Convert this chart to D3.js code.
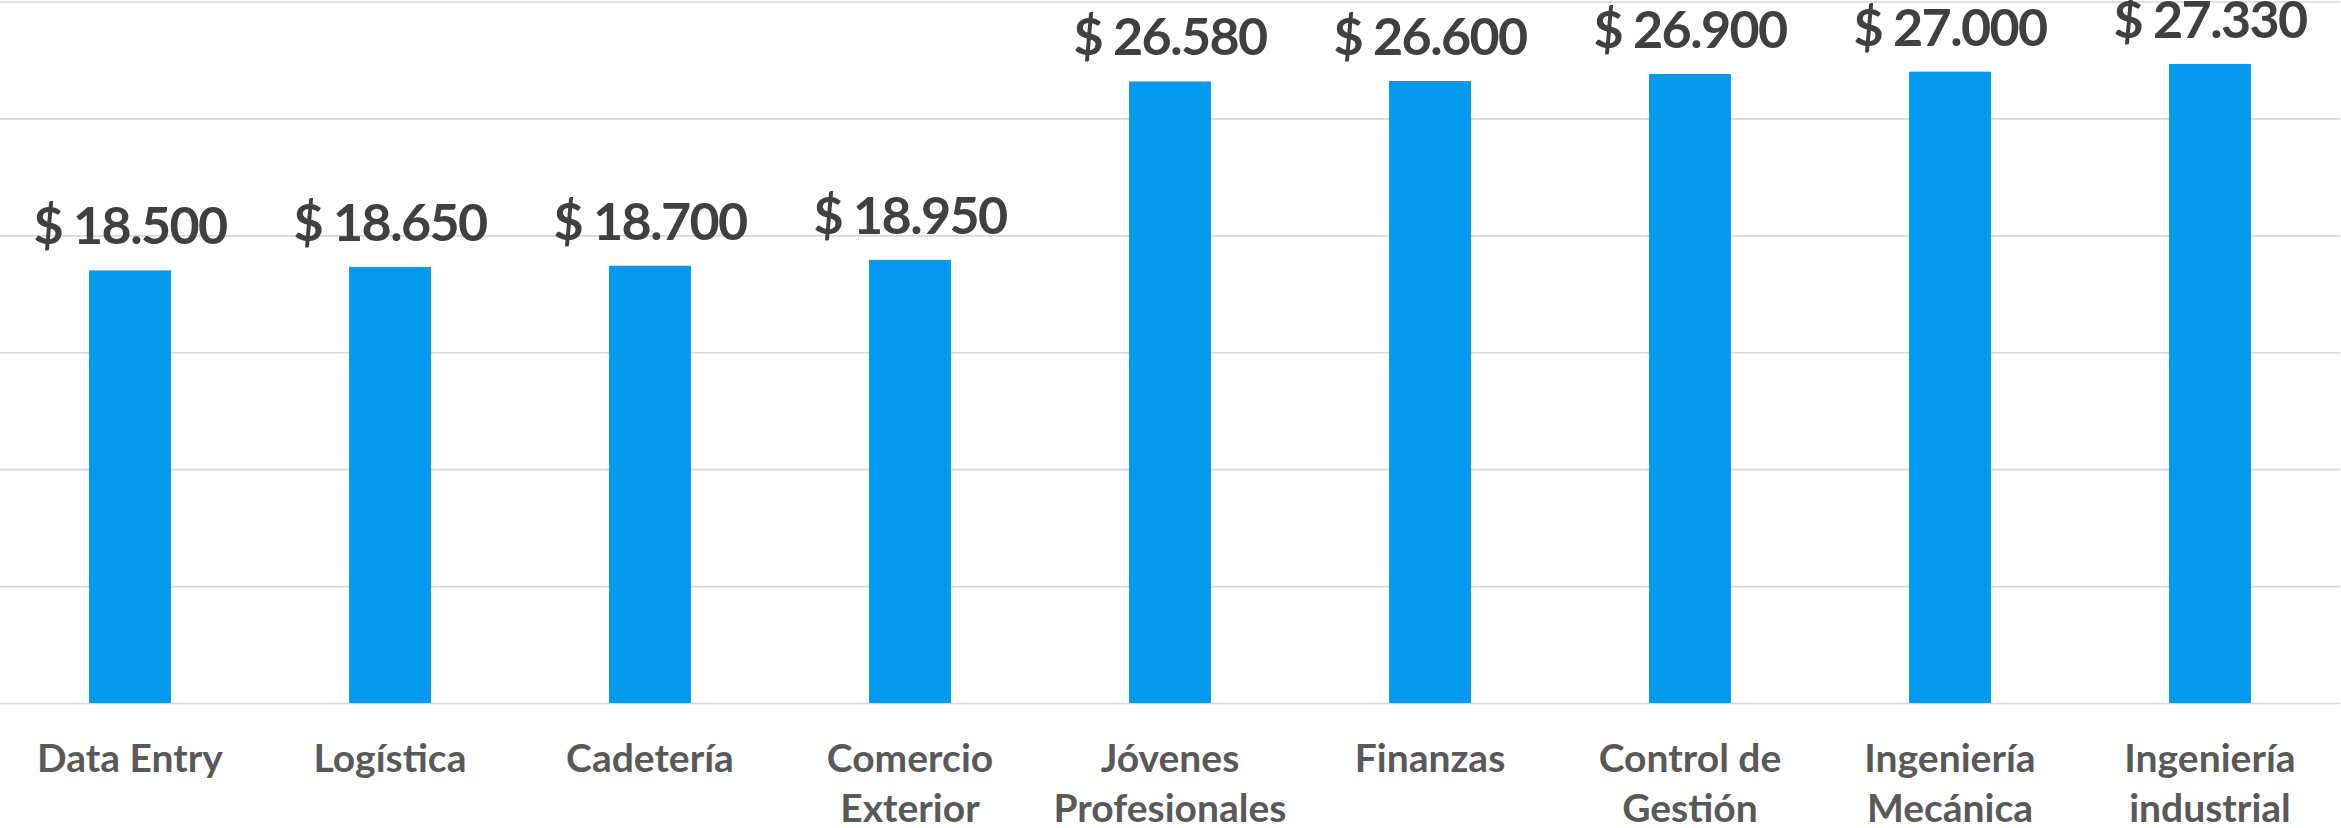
<!DOCTYPE html>
<html>
<head>
<meta charset="utf-8">
<script src="https://cdn.jsdelivr.net/npm/d3@7"></script>
<style>
  html, body { margin: 0; padding: 0; background: #fff; }
  svg { display: block; }
  .grid line { stroke: #d9d9d9; stroke-width: 1.6; }
  .grid .domain { display: none; }
  .value-label { font-family: Lato, "Open Sans", sans-serif; font-weight: 700; fill: #404040; letter-spacing: -1.6px; }
  .cat-label { font-family: Lato, "Open Sans", sans-serif; font-weight: 700; fill: #595959; }
</style>
</head>
<body>
<svg id="chart"></svg>
<script>
const width = 2341
const height = 828

// data
const categories = [
  ['Data Entry'],
  ['Logística'],
  ['Cadetería'],
  ['Comercio', 'Exterior'],
  ['Jóvenes', 'Profesionales'],
  ['Finanzas'],
  ['Control de', 'Gestión'],
  ['Ingeniería', 'Mecánica'],
  ['Ingeniería', 'industrial']
]
const salaries = [18500, 18650, 18700, 18950, 26580, 26600, 26900, 27000, 27330]
const yTicks = [0, 5000, 10000, 15000, 20000, 25000, 30000]

//

const margin = {top: 1.5, right: 1, bottom: 125, left: 0}
const plotW = width - margin.left - margin.right
const plotH = height - margin.top - margin.bottom

const svg = d3.select('#chart')
  .attr('width', width)
  .attr('height', height)

const g = svg.append('g')
  .attr('transform', `translate(${margin.left},${margin.top})`)

const keys = categories.map((c) => c.join(' '))

const x = d3.scaleBand()
  .domain(keys)
  .range([0, plotW])
  .paddingInner(0.685)
  .paddingOuter(0.685 / 2)

const y = d3.scaleLinear()
  .domain([0, 30000])
  .range([plotH, 0])

// gridlines
g.append('g')
  .attr('class', 'grid')
  .call(d3.axisLeft(y).tickValues(yTicks).tickSize(-plotW).tickFormat(''))
  .call((sel) => sel.selectAll('.tick line').attr('x1', 0).attr('x2', plotW))

// bars
g.selectAll('.bar')
  .data(salaries)
  .join('rect')
  .attr('class', 'bar')
  .attr('x', (d, i) => x(keys[i]))
  .attr('y', (d) => y(d))
  .attr('width', x.bandwidth())
  .attr('height', (d) => plotH - y(d))
  .attr('fill', '#0599ee')

// value labels
const fmt = (v) => '$ ' + d3.format(',')(v).replace(/,/g, '.')

g.selectAll('.value-label')
  .data(salaries)
  .join('text')
  .attr('class', 'value-label')
  .attr('x', (d, i) => x(keys[i]) + x.bandwidth() / 2)
  .attr('y', (d) => y(d) - 26)
  .attr('text-anchor', 'middle')
  .style('font-size', '52px')
  .text(fmt)

// category labels
const cat = g.selectAll('.cat-label')
  .data(categories)
  .join('text')
  .attr('class', 'cat-label')
  .attr('x', (d, i) => x(keys[i]) + x.bandwidth() / 2)
  .attr('y', plotH + 69)
  .attr('text-anchor', 'middle')
  .style('font-size', '39px')

cat.selectAll('tspan')
  .data((d) => d)
  .join('tspan')
  .attr('x', function () { return d3.select(this.parentNode).attr('x') })
  .attr('dy', (d, i) => i === 0 ? 0 : 50)
  .text((d) => d)
</script>
</body>
</html>
